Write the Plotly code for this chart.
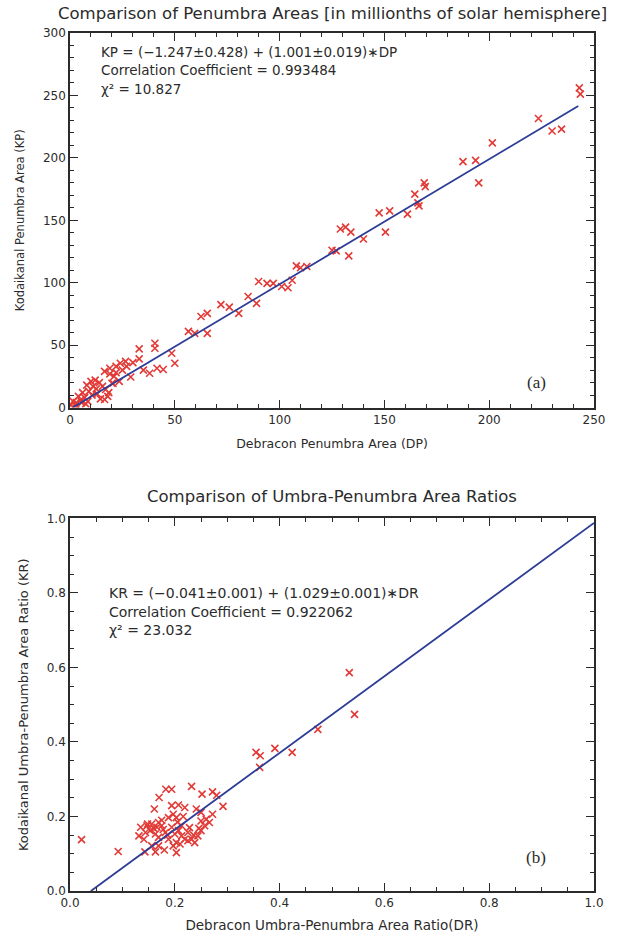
import plotly.graph_objects as go

# ---- Panel (a): penumbra areas, Debracon (DP) vs Kodaikanal (KP) ----
dp_area = [243, 243.5, 223.5, 230, 234.5, 201.5, 187.5, 193.5, 195, 169, 169.5, 164.5, 166, 166.5,
           161, 147.5, 152.5, 150.5, 140, 129, 131.5, 134, 133, 125, 127, 108, 110, 113, 101, 104,
           106, 90, 94, 97, 85, 89, 80.5, 72, 76, 62.5, 65.5, 65.5, 56.5, 59.5, 48.5, 50, 40.5,
           40.5, 33, 33, 41.5, 44.5, 38, 26.5, 24, 22, 19, 16.5, 29, 23.5, 20.5, 25, 27, 30, 35,
           0.5, 1.5, 2.5, 3, 3.5, 4, 5, 5.5, 6, 7, 7.5, 8, 8.5, 9, 10, 10.5, 11, 12, 12.5, 13,
           14, 14.5, 15.5, 16.5, 17, 18, 18.5, 19, 20, 21, 22]
kp_area = [256, 251, 231.5, 221.5, 223, 212, 197, 198, 180, 180, 177, 171, 164, 161.5,
           155, 156, 157.5, 140.5, 135, 143, 144.5, 140.5, 121.5, 126, 125.5, 113.5, 112, 113, 97, 96,
           102, 101, 99.5, 99.5, 89, 83.5, 75.5, 82.5, 80.5, 73, 75.5, 59.5, 61, 59.5, 43.5, 35.5, 51.5,
           47.5, 47, 39, 31.5, 30.5, 27.5, 37, 35.5, 33, 31.5, 29, 24.5, 21, 19.5, 30, 33, 36, 30,
           2, 5, 2.5, 4, 1, 9, 6, 4, 12, 8, 3, 18, 5, 13, 21, 10, 17, 22, 15, 11,
           20, 7, 17, 6.5, 14.5, 9, 12, 27, 19.5, 25, 28]
kp_fit = (-1.247, 1.001)          # intercept, slope
dp_fit_span = [1.5, 242.5]

# ---- Panel (b): umbra/penumbra area ratios, Debracon (DR) vs Kodaikanal (KR) ----
dr_ratio = [0.022, 0.092, 0.355, 0.363, 0.362, 0.391, 0.424, 0.473, 0.533, 0.543,
            0.183, 0.194, 0.170, 0.232, 0.252, 0.272, 0.280, 0.292, 0.161, 0.194, 0.207, 0.219,
            0.241, 0.250, 0.272,
            0.1315, 0.141, 0.135, 0.147, 0.156, 0.153, 0.166, 0.169, 0.175, 0.144, 0.163, 0.182,
            0.169, 0.200, 0.213, 0.225, 0.232, 0.244, 0.250, 0.257, 0.266, 0.260, 0.250, 0.207,
            0.219, 0.238, 0.213, 0.194, 0.188, 0.143, 0.163, 0.180, 0.203, 0.197, 0.188, 0.203,
            0.216, 0.203, 0.197, 0.210, 0.225, 0.169, 0.156, 0.178, 0.186, 0.228, 0.205, 0.175,
            0.160, 0.148, 0.236, 0.246]
kr_ratio = [0.138, 0.106, 0.372, 0.363, 0.332, 0.383, 0.372, 0.434, 0.586, 0.474,
            0.273, 0.273, 0.251, 0.281, 0.260, 0.266, 0.257, 0.227, 0.220, 0.229, 0.231, 0.224,
            0.220, 0.211, 0.206,
            0.148, 0.139, 0.171, 0.175, 0.180, 0.162, 0.171, 0.184, 0.175, 0.157, 0.153, 0.157,
            0.144, 0.153, 0.148, 0.157, 0.139, 0.148, 0.162, 0.175, 0.184, 0.193, 0.188, 0.162,
            0.139, 0.130, 0.175, 0.171, 0.139, 0.105, 0.105, 0.110, 0.103, 0.206, 0.197, 0.197,
            0.200, 0.130, 0.121, 0.126, 0.135, 0.121, 0.121, 0.165, 0.150, 0.170, 0.185, 0.190,
            0.168, 0.180, 0.150, 0.168]
kr_fit = (-0.041, 1.029)
dr_fit_span = [0.0398, 1.0]

# ---- axis tick labels ----
area_ticks = [0, 50, 100, 150, 200, 250, 300]
ratio_ticks = [0.0, 0.2, 0.4, 0.6, 0.8, 1.0]
ratio_ticktext = ["0.0", "0.2", "0.4", "0.6", "0.8", "1.0"]

RED = "#e23a36"
BLUE = "#2d3c96"
INK = "#2b2b2b"
FONT = "DejaVu Sans"

fig = go.Figure()

marker = dict(symbol="x-thin-open", size=7, line=dict(color=RED, width=1.6), color=RED)

fig.add_trace(go.Scatter(x=dp_area, y=kp_area, mode="markers", marker=marker,
                         xaxis="x", yaxis="y", showlegend=False))
fig.add_trace(go.Scatter(x=dp_fit_span, y=[kp_fit[0] + kp_fit[1] * v for v in dp_fit_span],
                         mode="lines", line=dict(color=BLUE, width=1.8),
                         xaxis="x", yaxis="y", showlegend=False))
fig.add_trace(go.Scatter(x=dr_ratio, y=kr_ratio, mode="markers", marker=marker,
                         xaxis="x2", yaxis="y2", showlegend=False))
fig.add_trace(go.Scatter(x=dr_fit_span, y=[kr_fit[0] + kr_fit[1] * v for v in dr_fit_span],
                         mode="lines", line=dict(color=BLUE, width=1.8),
                         xaxis="x2", yaxis="y2", showlegend=False))

axis_style = dict(showline=True, linecolor=INK, linewidth=1.6, mirror="allticks",
                  ticks="inside", ticklen=8, tickwidth=1.3, tickcolor=INK,
                  showgrid=False, zeroline=False,
                  tickfont=dict(family=FONT, size=12, color=INK))

fig.update_layout(
    width=617, height=943,
    margin=dict(l=70, r=15, t=33, b=51),
    paper_bgcolor="white", plot_bgcolor="white",
    font=dict(family=FONT, color=INK),
    xaxis=dict(axis_style, domain=[0, 1], range=[0, 250], tickvals=area_ticks[:-1],
               minor=dict(dtick=10, ticklen=4, tickcolor=INK, ticks="inside"),
               anchor="y",
               title=dict(text="Debracon Penumbra Area (DP)", standoff=13,
                          font=dict(family=FONT, size=12.5, color=INK))),
    yaxis=dict(axis_style, domain=[0.5634, 1.0], range=[0, 300], tickvals=area_ticks,
               minor=dict(dtick=10, ticklen=4, tickcolor=INK, ticks="inside"),
               anchor="x",
               title=dict(text="Kodaikanal Penumbra Area (KP)", standoff=16,
                          font=dict(family=FONT, size=11.5, color=INK))),
    xaxis2=dict(axis_style, domain=[0, 1], range=[0, 1], tickvals=ratio_ticks,
                ticktext=ratio_ticktext,
                minor=dict(dtick=0.05, ticklen=4, tickcolor=INK, ticks="inside"),
                anchor="y2",
                title=dict(text="Debracon Umbra-Penumbra Area Ratio(DR)", standoff=11,
                           font=dict(family=FONT, size=13.5, color=INK))),
    yaxis2=dict(axis_style, domain=[0, 0.4342], range=[0, 1], tickvals=ratio_ticks,
                ticktext=ratio_ticktext,
                minor=dict(dtick=0.05, ticklen=4, tickcolor=INK, ticks="inside"),
                anchor="x2",
                title=dict(text="Kodaikanal Umbra-Penumbra Area Ratio (KR)", standoff=15,
                           font=dict(family=FONT, size=13, color=INK))),
)

fig.add_annotation(text="Comparison of Penumbra Areas [in millionths of solar hemisphere]",
                   xref="paper", yref="paper", x=0.5, y=1.0, yshift=20, showarrow=False,
                   font=dict(family=FONT, size=16.5, color=INK), xanchor="center", yanchor="middle")
fig.add_annotation(text="Comparison of Umbra-Penumbra Area Ratios",
                   xref="paper", yref="paper", x=0.5, y=0.4342, yshift=10, showarrow=False,
                   font=dict(family=FONT, size=16.5, color=INK), xanchor="center", yanchor="bottom")

stats_a = ["KP = (−1.247±0.428) + (1.001±0.019)∗DP",
           "Correlation Coefficient = 0.993484",
           "χ² = 10.827"]
stats_b = ["KR = (−0.041±0.001) + (1.029±0.001)∗DR",
           "Correlation Coefficient = 0.922062",
           "χ² = 23.032"]

for i, line in enumerate(stats_a):
    fig.add_annotation(text=line, xref="x domain", yref="y domain", x=0.055, y=0.95 - i * 0.05,
                       showarrow=False, xanchor="left", yanchor="middle",
                       font=dict(family=FONT, size=13.5, color=INK))
for i, line in enumerate(stats_b):
    fig.add_annotation(text=line, xref="x2 domain", yref="y2 domain", x=0.07, y=0.80 - i * 0.05,
                       showarrow=False, xanchor="left", yanchor="middle",
                       font=dict(family=FONT, size=14, color=INK))

fig.add_annotation(text="(a)", xref="x domain", yref="y domain", x=0.89, y=0.067,
                   showarrow=False, xanchor="center", yanchor="middle",
                   font=dict(family="Liberation Serif", size=17, color=INK))
fig.add_annotation(text="(b)", xref="x2 domain", yref="y2 domain", x=0.89, y=0.09,
                   showarrow=False, xanchor="center", yanchor="middle",
                   font=dict(family="Liberation Serif", size=17, color=INK))

fig.write_html("out.html")
